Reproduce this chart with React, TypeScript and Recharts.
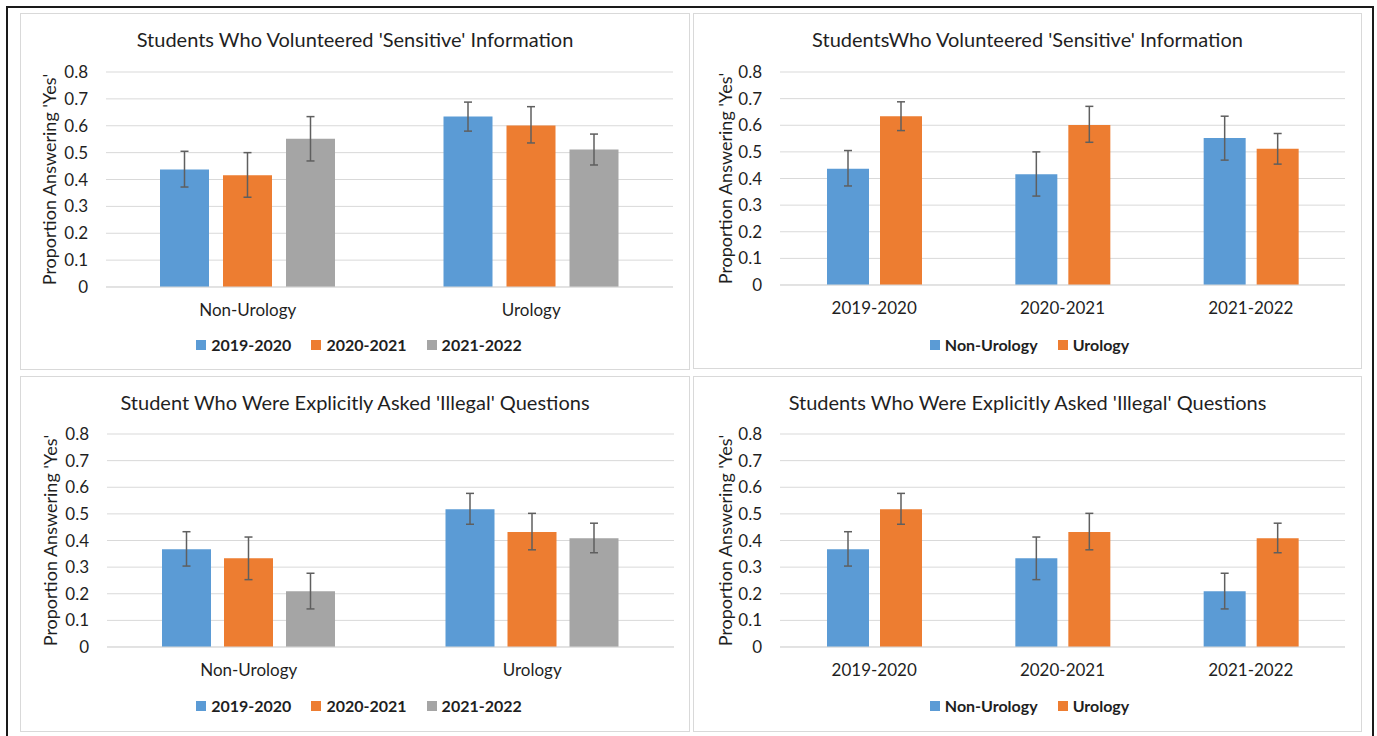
import React from 'react';
import { BarChart, Bar, XAxis, YAxis, CartesianGrid, ErrorBar, Legend } from 'recharts';

// ---- data ----
const yTicks = [0, 0.1, 0.2, 0.3, 0.4, 0.5, 0.6, 0.7, 0.8];
const groups = ['Non-Urology', 'Urology'];
const years = ['2019-2020', '2020-2021', '2021-2022'];

// Volunteered 'Sensitive' information (by year)
const sensNonUro = [0.437, 0.416, 0.552];
const sensNonUroLow = [0.372, 0.334, 0.469];
const sensNonUroHigh = [0.505, 0.5, 0.634];
const sensUro = [0.634, 0.601, 0.512];
const sensUroLow = [0.58, 0.536, 0.454];
const sensUroHigh = [0.688, 0.671, 0.569];

// Explicitly asked 'Illegal' questions (by year)
const illNonUro = [0.367, 0.333, 0.209];
const illNonUroLow = [0.304, 0.253, 0.143];
const illNonUroHigh = [0.433, 0.413, 0.277];
const illUro = [0.517, 0.432, 0.408];
const illUroLow = [0.461, 0.365, 0.354];
const illUroHigh = [0.577, 0.502, 0.465];

const yLabel = "Proportion Answering 'Yes'";

// ---- style ----
const FONT = 'Lato, "Open Sans", sans-serif';
const TEXT = '#1f1f1f';
const GRID = '#d9d9d9';
const PANEL_BORDER = '#d9d9d9';
const BLUE = '#5B9BD5';
const ORANGE = '#ED7D31';
const GRAY = '#A5A5A5';
const ERR = '#5f5f5f';

type Set3 = [number[], number[], number[]];

const errOf = (v: number, lo: number, hi: number) => [v - lo, hi - v];

function buildByGroup(sets: Set3[]) {
  return groups.map((g, gi) => {
    const [v, lo, hi] = sets[gi];
    const row: any = { name: g };
    years.forEach((_, yi) => {
      row['s' + yi] = v[yi];
      row['e' + yi] = errOf(v[yi], lo[yi], hi[yi]);
    });
    return row;
  });
}

function buildByYear(sets: Set3[]) {
  return years.map((y, yi) => {
    const row: any = { name: y };
    sets.forEach(([v, lo, hi], gi) => {
      row['s' + gi] = v[yi];
      row['e' + gi] = errOf(v[yi], lo[yi], hi[yi]);
    });
    return row;
  });
}

const sensSets: Set3[] = [
  [sensNonUro, sensNonUroLow, sensNonUroHigh],
  [sensUro, sensUroLow, sensUroHigh],
];
const illSets: Set3[] = [
  [illNonUro, illNonUroLow, illNonUroHigh],
  [illUro, illUroLow, illUroHigh],
];

const yearSeries = years.map((y, i) => ({ name: y, color: [BLUE, ORANGE, GRAY][i] }));
const groupSeries = groups.map((g, i) => ({ name: g, color: [BLUE, ORANGE][i] }));

const makeLegend = (dx: number) => (props: any) => {
  const payload = props.payload || [];
  return (
    <div
      style={{
        display: 'flex',
        justifyContent: 'center',
        alignItems: 'center',
        fontFamily: FONT,
        fontWeight: 700,
        fontSize: 16,
        lineHeight: '20px',
        color: TEXT,
        whiteSpace: 'nowrap',
        paddingLeft: dx,
      }}
    >
      {payload.map((p: any, i: number) => (
        <div key={i} style={{ display: 'flex', alignItems: 'center', marginLeft: i ? 20 : 0 }}>
          <span style={{ width: 10, height: 10, background: p.color, marginRight: 5, display: 'inline-block' }} />
          <span>{p.value}</span>
        </div>
      ))}
    </div>
  );
};

type PanelProps = {
  box: [number, number, number, number];
  title: string;
  data: any[];
  series: { name: string; color: string }[];
  margin: { top: number; right: number; bottom: number; left: number };
  barSize: number;
  barGap: number;
  titleY: number;
  legendY: number;
  legendDx: number;
  yLabelX: number;
};

function Panel({ box, title, data, series, margin, barSize, barGap, titleY, legendY, legendDx, yLabelX }: PanelProps) {
  const [left, top, width, height] = box;
  return (
    <div
      style={{
        position: 'absolute',
        left,
        top,
        width,
        height,
        boxSizing: 'border-box',
        border: `1px solid ${PANEL_BORDER}`,
        background: '#fff',
      }}
    >
      <div style={{ position: 'absolute', left: -1, top: -1, width, height }}>
        <BarChart width={width} height={height} data={data} margin={margin} barGap={barGap} barSize={barSize}>
          <CartesianGrid vertical={false} stroke={GRID} strokeWidth={1} />
          <XAxis
            dataKey="name"
            tickLine={false}
            axisLine={{ stroke: GRID }}
            tickSize={0}
            tickMargin={17}
            height={30}
            interval={0}
            tick={{ fontSize: 17, fill: TEXT, fontFamily: FONT }}
          />
          <YAxis
            domain={[0, 0.8]}
            ticks={yTicks}
            interval={0}
            width={86}
            axisLine={false}
            tickLine={false}
            tickSize={0}
            tickMargin={18}
            tickFormatter={(v: number) => String(v)}
            tick={{ fontSize: 17, fill: TEXT, fontFamily: FONT }}
            label={{
              value: yLabel,
              angle: -90,
              position: 'insideLeft',
              offset: yLabelX,
              style: { textAnchor: 'middle', fontSize: 18, fill: TEXT, fontFamily: FONT },
            }}
          />
          {series.map((s, i) => (
            <Bar key={s.name} dataKey={'s' + i} name={s.name} fill={s.color} isAnimationActive={false}>
              <ErrorBar dataKey={'e' + i} width={4} stroke={ERR} strokeWidth={1.5} direction="y" />
            </Bar>
          ))}
          <Legend
            verticalAlign="middle"
            align="center"
            layout="horizontal"
            content={makeLegend(legendDx)}
            wrapperStyle={{ top: legendY - 10, left: 0, width, height: 20 }}
          />
        </BarChart>
      </div>
      <div
        style={{
          position: 'absolute',
          left: -1,
          top: titleY - 13,
          width,
          textAlign: 'center',
          fontFamily: FONT,
          fontSize: 20,
          lineHeight: '24px',
          color: TEXT,
          whiteSpace: 'nowrap',
        }}
      >
        {title}
      </div>
    </div>
  );
}

export default function App() {
  return (
    <div style={{ position: 'absolute', left: 0, top: 0, width: 1377, height: 736, background: '#fff', overflow: 'hidden' }}>
      <div
        style={{
          position: 'absolute',
          left: 6,
          top: 6,
          width: 1368,
          height: 740,
          boxSizing: 'border-box',
          border: '2px solid #1a1a1a',
        }}
      />
      <Panel
        box={[20, 13, 670, 357]}
        title="Students Who Volunteered 'Sensitive' Information"
        data={buildByGroup(sensSets)}
        series={yearSeries}
        margin={{ top: 59, right: 17, bottom: 53, left: 0 }}
        barSize={49}
        barGap={14}
        titleY={26}
        legendY={332}
        legendDx={8}
        yLabelX={30}
      />
      <Panel
        box={[693, 13, 669, 356]}
        title="StudentsWho Volunteered 'Sensitive' Information"
        data={buildByYear(sensSets)}
        series={groupSeries}
        margin={{ top: 59, right: 17, bottom: 54, left: 1 }}
        barSize={42}
        barGap={11}
        titleY={26}
        legendY={332}
        legendDx={4}
        yLabelX={32}
      />
      <Panel
        box={[20, 376, 670, 356]}
        title="Student Who Were Explicitly Asked 'Illegal' Questions"
        data={buildByGroup(illSets)}
        series={yearSeries}
        margin={{ top: 58, right: 16, bottom: 55, left: 1 }}
        barSize={49}
        barGap={13}
        titleY={26}
        legendY={330}
        legendDx={8}
        yLabelX={30}
      />
      <Panel
        box={[693, 376, 669, 356]}
        title="Students Who Were Explicitly Asked 'Illegal' Questions"
        data={buildByYear(illSets)}
        series={groupSeries}
        margin={{ top: 58, right: 17, bottom: 55, left: 1 }}
        barSize={42}
        barGap={11}
        titleY={26}
        legendY={330}
        legendDx={4}
        yLabelX={32}
      />
    </div>
  );
}
